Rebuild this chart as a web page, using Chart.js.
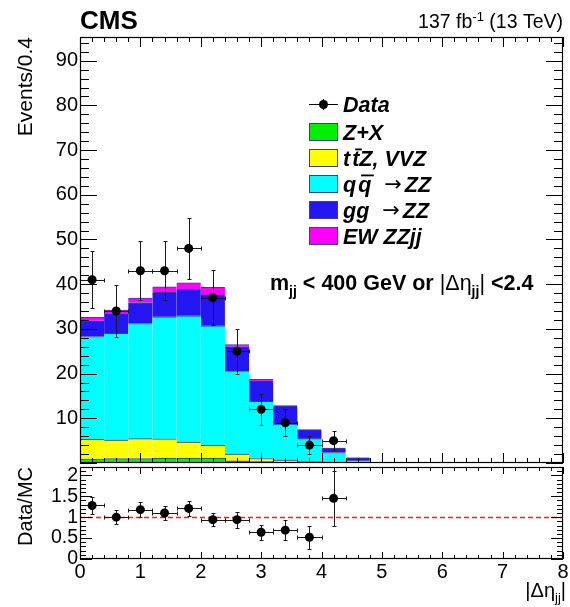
<!DOCTYPE html>
<html>
<head>
<meta charset="utf-8">
<script src="https://cdn.jsdelivr.net/npm/chart.js@4.4.1/dist/chart.umd.min.js"></script>
<style>
  html, body { margin: 0; padding: 0; background: #fff; }
  #wrap { position: relative; width: 570px; height: 607px; }
  #main { position: absolute; left: 0; top: 0; }
  #ratio { position: absolute; left: 0; top: 465px; }
</style>
</head>
<body>
<div id="wrap">
  <canvas id="main" width="570" height="465"></canvas>
  <canvas id="ratio" width="570" height="142"></canvas>
</div>
<script>
// |Δη_jj| bins, width 0.4, from 0 to 8
const binCenters = [0.2, 0.6, 1.0, 1.4, 1.8, 2.2, 2.6, 3.0, 3.4, 3.8,
                    4.2, 4.6, 5.0, 5.4, 5.8, 6.2, 6.6, 7.0, 7.4, 7.8];
const binLabels = ['0-0.4', '0.4-0.8', '0.8-1.2', '1.2-1.6', '1.6-2', '2-2.4', '2.4-2.8', '2.8-3.2', '3.2-3.6', '3.6-4',
                   '4-4.4', '4.4-4.8', '4.8-5.2', '5.2-5.6', '5.6-6', '6-6.4', '6.4-6.8', '6.8-7.2', '7.2-7.6', '7.6-8'];
const halfBin = 0.2;

// Expected yields per bin (stacked, bottom to top)
const zPlusX = [0.9, 1.0, 1.0, 1.1, 1.1, 1.1, 0.5, 0.3, 0.15, 0.1, 0.05, 0.02, 0, 0, 0, 0, 0, 0, 0, 0];
const ttzVVZ = [4.4, 4.15, 4.45, 4.3, 3.6, 2.85, 1.5, 0.7, 0.5, 0.2, 0.1, 0.05, 0.02, 0, 0, 0, 0, 0, 0, 0];
const qqZZ   = [23.0, 23.85, 25.75, 27.3, 28.25, 26.75, 18.6, 12.8, 8.05, 5.15, 2.2, 0.6, 0.03, 0, 0, 0, 0, 0, 0, 0];
const ggZZ   = [3.5, 4.4, 4.7, 5.5, 5.95, 6.9, 5.4, 4.6, 4.05, 1.95, 0.95, 0.48, 0.1, 0, 0, 0, 0, 0, 0, 0];
const ewZZjj = [0.8, 0.8, 1.0, 1.2, 1.4, 1.7, 0.5, 0.3, 0.1, 0.05, 0.05, 0.02, 0, 0, 0, 0, 0, 0, 0, 0];

// Observed events (first 11 bins; empty bins beyond are not drawn)
const dataCounts = [41, 34, 43, 43, 48, 37, 25, 12, 9, 4, 5];
const dataErrors = [6.4, 5.8, 6.6, 6.6, 6.9, 6.1, 5.0, 3.5, 3.0, 2.0, 2.2];

// Data/MC ratio
const ratioValues = [1.28, 1.0, 1.18, 1.1, 1.21, 0.94, 0.94, 0.64, 0.69, 0.52, 1.45];
const ratioErrors = [0.2, 0.17, 0.18, 0.17, 0.17, 0.155, 0.19, 0.185, 0.235, 0.27, 0.66];

// Axis tick labels
const mainYTicks = [10, 20, 30, 40, 50, 60, 70, 80, 90];
const ratioYTicks = [0, 0.5, 1, 1.5, 2];
const xTicks = [0, 1, 2, 3, 4, 5, 6, 7, 8];

const FONT = "'Liberation Sans', Arial, Helvetica, sans-serif";
Chart.defaults.font.family = FONT;
Chart.defaults.color = '#000';

const outline = '#3b3b9e';
const stackSeries = [
  { label: 'Z+X',             values: zPlusX, color: '#00f000' },
  { label: 'tt\u0304Z, VVZ',  values: ttzVVZ, color: '#ffff00' },
  { label: 'qq\u0304 \u2192 ZZ', values: qqZZ, color: '#00ffff' },
  { label: 'gg \u2192 ZZ',    values: ggZZ,   color: '#2416f0' },
  { label: 'EW ZZjj',         values: ewZZjj, color: '#ff00ff' }
];

// ---------- helpers ----------
function line(ctx, x0, y0, x1, y1) { ctx.moveTo(x0, y0); ctx.lineTo(x1, y1); }
function richWidth(ctx, parts) {
  let w = 0;
  for (const p of parts) { ctx.font = p.font; w += ctx.measureText(p.text).width; }
  return w;
}
function drawRich(ctx, parts, x, y) {
  for (const p of parts) {
    ctx.font = p.font;
    ctx.fillText(p.text, x, y + (p.dy || 0));
    x += ctx.measureText(p.text).width;
  }
}
// Keep the plot frame exactly where the layout padding puts it
function fixWidth(w) {
  return scale => {
    scale.width = w;
    scale.paddingTop = 0; scale.paddingBottom = 0;
  };
}
function fixHeight(h) {
  return scale => {
    scale.height = h;
    scale.paddingLeft = 0; scale.paddingRight = 0;
  };
}

// ROOT-style inner ticks on all four sides plus the frame
function drawFrameTicks(chart, xs, ys, cfg) {
  const { ctx, chartArea: a } = chart;
  ctx.save();
  ctx.strokeStyle = '#000';
  ctx.lineWidth = 1;
  ctx.beginPath();
  for (let k = 0; k <= 40; k++) {
    const px = Math.round(xs.getPixelForValue(k * 0.2)) + 0.5;
    const len = k % 5 === 0 ? cfg.xMajor : cfg.xMinor;
    line(ctx, px, a.bottom, px, a.bottom - len);
    line(ctx, px, a.top, px, a.top + len);
  }
  for (let k = 0; k * cfg.yMinorStep <= cfg.yMax + 1e-9; k++) {
    const py = Math.round(ys.getPixelForValue(k * cfg.yMinorStep)) + 0.5;
    const len = k % cfg.yPerMajor === 0 ? cfg.yMajor : cfg.yMinor;
    line(ctx, a.left, py, a.left + len, py);
    line(ctx, a.right, py, a.right - len, py);
  }
  ctx.stroke();
  ctx.lineWidth = 1.2;
  ctx.strokeRect(Math.round(a.left) + 0.5, Math.round(a.top) + 0.5,
                 Math.round(a.right - a.left) - 1, Math.round(a.bottom - a.top) - 1);
  ctx.restore();
}

function drawErrorBars(chart, xs, ys, values, errors) {
  const ctx = chart.ctx;
  ctx.save();
  ctx.strokeStyle = '#1a1a1a';
  ctx.lineWidth = 1;
  ctx.beginPath();
  values.forEach((v, i) => {
    const cx = Math.round(xs.getPixelForValue(binCenters[i])) + 0.5;
    const cy = Math.round(ys.getPixelForValue(v)) + 0.5;
    const x0 = Math.round(xs.getPixelForValue(binCenters[i] - halfBin)) + 0.5;
    const x1 = Math.round(xs.getPixelForValue(binCenters[i] + halfBin)) + 0.5;
    const y0 = Math.round(ys.getPixelForValue(v - errors[i])) + 0.5;
    const y1 = Math.round(ys.getPixelForValue(v + errors[i])) + 0.5;
    line(ctx, x0, cy, x1, cy);
    line(ctx, cx, y0, cx, y1);
    line(ctx, cx - 2, y0, cx + 2, y0);
    line(ctx, cx - 2, y1, cx + 2, y1);
    line(ctx, x0, cy - 2, x0, cy + 2);
    line(ctx, x1, cy - 2, x1, cy + 2);
  });
  ctx.stroke();
  ctx.restore();
}

// Legend text: handles overlined characters and a non-italic arrow
const LEG_FONT = `italic bold 21.5px ${FONT}`;
const LEG_ARROW_FONT = `21px 'DejaVu Sans', ${FONT}`;
function drawLegendLabel(ctx, label, x, y) {
  const chars = Array.from(label);
  let afterArrow = false;
  for (let i = 0; i < chars.length; i++) {
    const c = chars[i];
    if (c === '\u0304') continue;
    if (c === ' ' && afterArrow) { afterArrow = false; x += 3; continue; }
    const arrow = c === '\u2192';
    const barred = chars[i + 1] === '\u0304';
    if (barred) x += 2;
    if (arrow) x += 7;
    ctx.font = arrow ? LEG_ARROW_FONT : LEG_FONT;
    ctx.fillText(c, x, arrow ? y - 1 : y);
    const w = ctx.measureText(c).width;
    if (barred) ctx.fillRect(x + 3, y - 17.5, w - 0.5, 1.8);
    x += w;
    afterArrow = arrow;
  }
}

const mainDecor = {
  id: 'mainDecor',
  beforeDatasetDraw(chart, args) {
    if (args.meta.type === 'scatter') {
      drawErrorBars(chart, chart.scales.xv, chart.scales.y, dataCounts, dataErrors);
    }
  },
  afterDraw(chart) {
    const ctx = chart.ctx;
    drawFrameTicks(chart, chart.scales.xv, chart.scales.y, {
      xMajor: 10, xMinor: 5, yMinorStep: 2, yPerMajor: 5, yMax: 95, yMajor: 17, yMinor: 9
    });
    ctx.save();
    ctx.fillStyle = '#000';
    ctx.textBaseline = 'alphabetic';

    // Header texts
    ctx.font = `bold 26px ${FONT}`;
    ctx.textAlign = 'left';
    ctx.fillText('CMS', 80, 29);

    const lumi = [
      { text: '137 fb', font: `19.5px ${FONT}` },
      { text: '-1', font: `13px ${FONT}`, dy: -7.5 },
      { text: ' (13 TeV)', font: `19.5px ${FONT}` }
    ];
    drawRich(ctx, lumi, 563 - richWidth(ctx, lumi), 28);

    // Selection label
    const sel = [
      { text: 'm', font: `bold 21.5px ${FONT}` },
      { text: 'jj', font: `bold 14px ${FONT}`, dy: 5.5 },
      { text: ' < 400 GeV or ', font: `bold 21.5px ${FONT}` },
      { text: '|\u0394\u03b7', font: `21.5px ${FONT}` },
      { text: 'jj', font: `bold 14px ${FONT}`, dy: 5.5 },
      { text: '|', font: `21.5px ${FONT}` },
      { text: ' <2.4', font: `bold 21.5px ${FONT}` }
    ];
    drawRich(ctx, sel, 270, 290);

    // Y axis title
    ctx.save();
    ctx.translate(32, 37);
    ctx.rotate(-Math.PI / 2);
    ctx.textAlign = 'right';
    ctx.font = `21px ${FONT}`;
    ctx.fillText('Events/0.4', 0, 0);
    ctx.restore();

    // Legend
    const lx0 = 309, lx1 = 338, tx = 343;
    const rows = [104, 132, 158, 184, 210, 236];
    ctx.textAlign = 'left';
    ctx.strokeStyle = '#000';
    ctx.lineWidth = 1;
    ctx.beginPath();
    line(ctx, lx0, rows[0] + 0.5, lx1, rows[0] + 0.5);
    line(ctx, 323.5, rows[0] - 5, 323.5, rows[0] + 6);
    ctx.stroke();
    ctx.beginPath();
    ctx.arc(323.5, rows[0] + 0.5, 4.5, 0, Math.PI * 2);
    ctx.fill();
    drawLegendLabel(ctx, 'Data', tx, rows[0] + 8);
    stackSeries.forEach((s, i) => {
      const cy = rows[i + 1];
      ctx.fillStyle = s.color;
      ctx.fillRect(lx0, cy - 9, lx1 - lx0, 18);
      ctx.strokeStyle = outline;
      ctx.strokeRect(lx0 + 0.5, cy - 9 + 0.5, lx1 - lx0 - 1, 17);
      ctx.fillStyle = '#000';
      drawLegendLabel(ctx, s.label, tx, cy + 8);
    });
    ctx.restore();
  }
};

new Chart(document.getElementById('main'), {
  type: 'bar',
  data: {
    labels: binLabels,
    datasets: [
      ...stackSeries.map(s => ({
        type: 'bar',
        label: s.label,
        data: s.values,
        xAxisID: 'x',
        backgroundColor: s.color,
        borderColor: outline,
        borderWidth: { top: 1, left: 0, right: 0, bottom: 0 },
        barPercentage: 1,
        categoryPercentage: 1,
        grouped: false,
        stack: 'mc',
        order: 2
      })),
      {
        type: 'scatter',
        label: 'Data',
        data: dataCounts.map((n, i) => ({ x: binCenters[i], y: n })),
        xAxisID: 'xv',
        stack: 'obs',
        pointRadius: 4.5,
        pointBackgroundColor: '#000',
        pointBorderWidth: 0,
        order: 0
      }
    ]
  },
  options: {
    responsive: false,
    animation: false,
    events: [],
    layout: { autoPadding: false, padding: { left: 0, right: 7, top: 37, bottom: 2 } },
    plugins: { legend: { display: false }, tooltip: { enabled: false } },
    scales: {
      x: { type: 'category', stacked: true, display: false, offset: true },
      xv: { type: 'linear', min: 0, max: 8, display: false, offset: false },
      y: {
        type: 'linear', min: 0, max: 95.3, stacked: true,
        grid: { display: false, drawTicks: false },
        border: { display: false },
        ticks: { font: { size: 20 }, padding: 2, color: '#000', autoSkip: false, callback: v => String(v) },
        afterBuildTicks(scale) { scale.ticks = mainYTicks.map(v => ({ value: v })); },
        afterFit: fixWidth(80)
      }
    }
  },
  plugins: [mainDecor]
});

const ratioDecor = {
  id: 'ratioDecor',
  beforeDatasetsDraw(chart) {
    const { ctx, chartArea: a } = chart;
    const py = Math.round(chart.scales.y.getPixelForValue(1)) + 0.5;
    ctx.save();
    ctx.strokeStyle = '#ff1a1a';
    ctx.lineWidth = 1.4;
    ctx.setLineDash([5, 3]);
    ctx.beginPath();
    line(ctx, a.left, py, a.right, py);
    ctx.stroke();
    ctx.restore();
    drawErrorBars(chart, chart.scales.x, chart.scales.y, ratioValues, ratioErrors);
  },
  afterDraw(chart) {
    const ctx = chart.ctx;
    drawFrameTicks(chart, chart.scales.x, chart.scales.y, {
      xMajor: 7, xMinor: 4, yMinorStep: 0.1, yPerMajor: 5, yMax: 2.2, yMajor: 12, yMinor: 6
    });
    ctx.save();
    ctx.fillStyle = '#000';
    ctx.save();
    ctx.translate(32, 2);
    ctx.rotate(-Math.PI / 2);
    ctx.textAlign = 'right';
    ctx.font = `20px ${FONT}`;
    ctx.fillText('Data/MC', 0, 0);
    ctx.restore();
    const xt = [
      { text: '|\u0394\u03b7', font: `20px ${FONT}` },
      { text: 'jj', font: `13px ${FONT}`, dy: 5 },
      { text: '|', font: `20px ${FONT}` }
    ];
    ctx.textAlign = 'left';
    drawRich(ctx, xt, 566 - richWidth(ctx, xt), 132);
    ctx.restore();
  }
};

new Chart(document.getElementById('ratio'), {
  type: 'scatter',
  data: {
    datasets: [{
      label: 'Data/MC',
      data: ratioValues.map((r, i) => ({ x: binCenters[i], y: r })),
      pointRadius: 4.5,
      pointBackgroundColor: '#000',
      pointBorderWidth: 0
    }]
  },
  options: {
    responsive: false,
    animation: false,
    events: [],
    layout: { autoPadding: false, padding: { left: 0, right: 7, top: 2, bottom: 0 } },
    plugins: { legend: { display: false }, tooltip: { enabled: false } },
    scales: {
      x: {
        type: 'linear', min: 0, max: 8, offset: false,
        grid: { display: false, drawTicks: false },
        border: { display: false },
        ticks: { font: { size: 20 }, padding: 1, color: '#000', maxRotation: 0, autoSkip: false, callback: v => String(v) },
        afterBuildTicks(scale) { scale.ticks = xTicks.map(v => ({ value: v })); },
        afterFit: fixHeight(48)
      },
      y: {
        type: 'linear', min: 0, max: 2.2,
        grid: { display: false, drawTicks: false },
        border: { display: false },
        ticks: { font: { size: 19.5 }, padding: 2, color: '#000', autoSkip: false, callback: v => String(v) },
        afterBuildTicks(scale) { scale.ticks = ratioYTicks.map(v => ({ value: v })); },
        afterFit: fixWidth(80)
      }
    }
  },
  plugins: [ratioDecor]
});
</script>
</body>
</html>
